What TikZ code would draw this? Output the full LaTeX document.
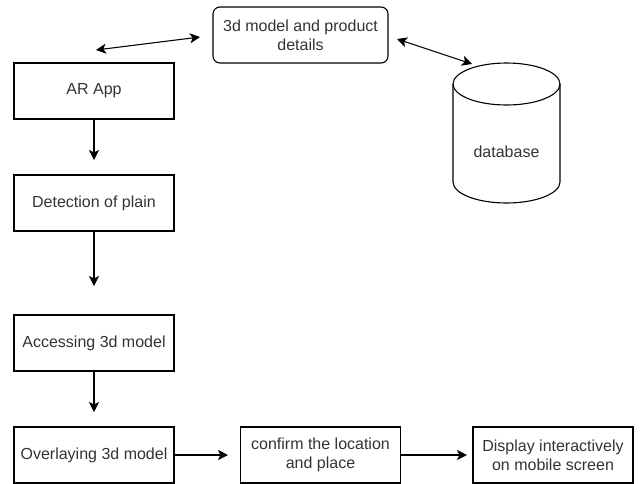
\documentclass[tikz,border=0pt]{standalone}
\usepackage{fontspec}
\setmainfont{Liberation Sans}
\usetikzlibrary{arrows.meta}
\definecolor{ink}{HTML}{333333}
\begin{document}
\begin{tikzpicture}[x=1pt,y=-1pt,
  every node/.style={font=\fontsize{16}{19}\selectfont, text=ink},
  stepbox/.style={draw, line width=1.1pt, minimum width=160pt, minimum height=56pt, inner sep=0pt, align=center},
  tip/.style={Stealth[length=10pt,width=10pt,inset=2.5pt]},
  flow/.style={line width=1.1pt, -{Stealth[length=10pt,width=10pt,inset=2.5pt]}},
  both/.style={line width=1.1pt, {Stealth[length=10pt,width=10pt,inset=2.5pt]}-{Stealth[length=10pt,width=10pt,inset=2.5pt]}}]
\useasboundingbox (0,0) rectangle (644,483);
% top: model details and its links
\node[stepbox, rounded corners=7pt, minimum width=175pt] (details) at (300.5,35) {3d model and product\\details};
\coordinate (la) at (96,50);
\coordinate (lb) at (200,37);
\draw[both] (la) -- (lb);
\coordinate (ra) at (397,39);
\coordinate (rb) at (472,64);
\draw[both] (ra) -- (rb);
% database cylinder
\draw[line width=1.1pt] (453,84) arc[start angle=180, end angle=-180, x radius=53.5, y radius=21];
\draw[line width=1.1pt] (453,84) -- (453,182) arc[start angle=180, end angle=0, x radius=53.5, y radius=21] -- (560,84);
\node (db) at (506.5,152) {database};
% main column
\node[stepbox] (app) at (94,91) {AR App};
\node[stepbox] (detect) at (94,203) {Detection of plain};
\node[stepbox] (access) at (94,343) {Accessing 3d model};
\node[stepbox] (overlay) at (94,455) {Overlaying 3d model};
\node[stepbox] (confirm) at (320.5,455) {confirm the location\\and place};
\node[stepbox] (display) at (553,455) {Display interactively\\on mobile screen};
% connectors
\coordinate (e1) at (94,160);
\coordinate (e2) at (94,286);
\coordinate (e3) at (94,412);
\coordinate (e4) at (228,455);
\coordinate (e5) at (467,455);
\draw[flow] (app.south) -- (e1);
\draw[flow] (detect.south) -- (e2);
\draw[flow] (access.south) -- (e3);
\draw[flow] (overlay.east) -- (e4);
\draw[flow] (confirm.east) -- (e5);
\end{tikzpicture}
\end{document}
